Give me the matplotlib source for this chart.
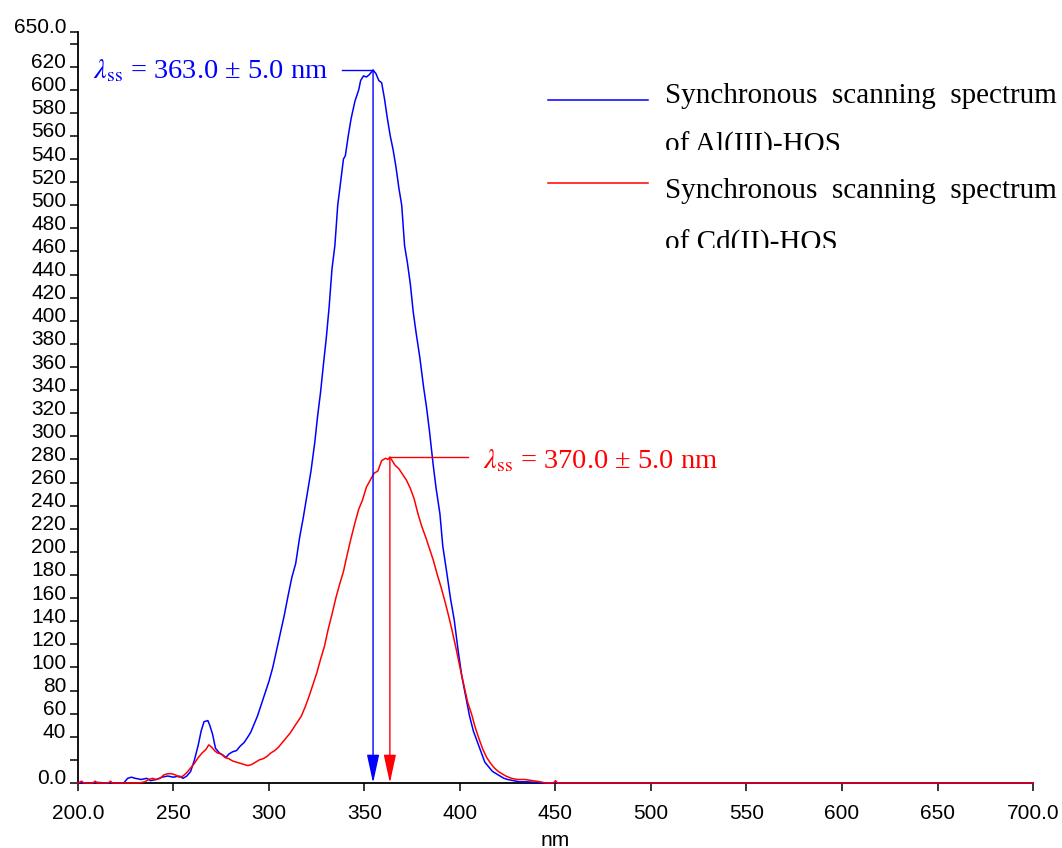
import matplotlib
matplotlib.use("Agg")
import matplotlib.pyplot as plt
import matplotlib.transforms as mtransforms
import numpy as np

plt.rcParams['font.family'] = ['Liberation Sans', 'DejaVu Sans']
plt.rcParams['mathtext.fontset'] = 'stix'

# synchronous scanning spectra (nm, intensity)
al_nm = [200, 205, 210, 215, 220, 224, 226, 228, 230, 233, 236, 238, 241, 244, 247, 250, 253, 255,
         257, 259, 261, 263, 264.5, 266, 268, 269, 270.5, 272, 274, 276, 277.5, 279, 281, 283, 285,
         287, 289, 290.5, 292, 294, 296, 298, 300, 302, 304, 306, 308, 310, 312, 314, 316, 318, 320,
         322, 324, 325.5, 327, 328.5, 330, 331.5, 333, 334.5, 336, 337.5, 339, 340, 341.5, 343, 345,
         347, 348, 349.5, 351, 352.5, 354.5, 356, 357.5, 359, 360.5, 362, 363.5, 365, 366.5, 368,
         369.5, 371, 372.5, 374, 375.5, 377, 379, 381, 382.5, 384, 386, 387.5, 389.5, 391, 393, 395,
         397, 399, 401, 403, 405, 407, 409, 411, 413, 415, 417, 419, 421, 423, 425, 428, 431, 435,
         440, 443, 700]
al_int = [0, 0, 0.5, 0, 0, 0, 4, 5, 4, 3, 4, 2, 3, 5, 6, 5, 6, 4,
          6, 10, 20, 33, 45, 53, 54, 50, 42, 30, 26, 24, 22, 25, 27, 28, 32,
          35, 40, 44, 50, 58, 68, 78, 88, 100, 115, 130, 145, 162, 178, 190, 212, 230, 250,
          270, 295, 318, 338, 362, 385, 412, 445, 465, 500, 520, 540, 543, 560, 575, 590,
          600, 608, 612, 611, 613, 617, 614, 608, 606, 592, 575, 560, 548, 533, 515,
          500, 465, 450, 432, 408, 390, 368, 342, 325, 305, 275, 255, 233, 205, 183, 160,
          141, 115, 92, 75, 58, 45, 36, 27, 18, 14, 10, 8, 6, 4, 3, 2, 1, 1,
          0.5, 0, 0]

cd_nm = [200, 202, 203, 208, 209, 210, 216, 217, 218, 225, 232, 235, 237, 239, 241, 243, 245, 247,
         249, 251, 253, 255, 257, 259, 261, 263, 265, 267, 268.5, 270, 271.5, 273, 275, 277, 279,
         281, 283, 285, 287, 289, 291, 293, 295, 297, 299, 301, 303, 305, 307, 309, 311, 313, 315,
         317, 319, 321, 323, 325, 327, 329, 331, 333, 335, 337, 339, 341, 343, 345, 347, 349, 351,
         353, 355, 357, 359, 361, 362.3, 363.3, 364.5, 366, 368, 370, 372, 374, 376, 378, 380, 382,
         384, 386, 388, 390, 392, 394, 396, 398, 400, 402, 404, 406, 408, 410, 412, 414, 416, 418,
         420, 422, 424, 427, 430, 434, 438, 442, 445, 449, 450, 451, 700]
cd_int = [0, 1.5, 0, 0, 1.5, 0, 0, 1.5, 0, 0, 0, 1, 3, 4, 3, 4, 7, 8,
          8, 7, 5, 6, 9, 13, 17, 22, 26, 29, 33, 31, 28, 26, 25, 22, 21,
          19, 18, 17, 16, 15, 16, 18, 20, 21, 23, 26, 28, 31, 35, 39, 43, 48, 53,
          58, 66, 75, 85, 95, 107, 118, 133, 146, 160, 172, 183, 198, 212, 225, 237, 245, 256,
          262, 268, 270, 279, 281, 280, 282, 279, 275, 272, 267, 262, 255, 246, 233, 222, 213,
          203, 193, 181, 170, 158, 145, 131, 116, 100, 85, 70, 60, 48, 38, 29, 22, 17, 13,
          10, 8, 6, 4, 3, 3, 2, 1, 0, 0, 2, 0, 0]

labels = ['Synchronous  scanning  spectrum', ['of Al(III)-HOS', 'of Cd(II)-HOS']]
peak_text = [r'$\lambda_{\rm ss}$ = 363.0 ± 5.0 nm', r'$\lambda_{\rm ss}$ = 370.0 ± 5.0 nm']

yticks = list(range(0, 660, 20)) + [650]
yticklabels = ['0.0', ''] + [str(v) for v in range(40, 640, 20)] + ['', '650.0']
xticks = list(range(200, 701, 50))
xticklabels = ['200.0'] + [str(v) for v in range(250, 700, 50)] + ['700.0']

fig = plt.figure(figsize=(10.62, 8.48), dpi=100)
ax = fig.add_axes([0.0734, 0.0767, 0.8993, 0.8856])

blue = '#0000ff'
red = '#ff0000'
ax.plot(al_nm, al_int, color=blue, lw=1.1, clip_on=False, zorder=3)
ax.plot(cd_nm, cd_int, color=red, lw=1.1, clip_on=False, zorder=4)

ax.set_xlim(200, 700)
ax.set_ylim(0, 650)

for sp in ['top', 'right']:
    ax.spines[sp].set_visible(False)
for sp in ['left', 'bottom']:
    ax.spines[sp].set_linewidth(1.3)

ax.set_xticks(xticks)
ax.set_xticklabels(xticklabels)
ax.set_yticks(yticks)
ax.set_yticklabels(yticklabels)
ax.tick_params(axis='x', direction='out', length=6, width=1.1, labelsize=15, pad=9)
ax.tick_params(axis='y', direction='out', length=5.5, width=1.1, labelsize=15, pad=3)
ax.set_xlabel('nm', fontsize=15, labelpad=6)

# y labels sit a little above their ticks
shift = mtransforms.ScaledTranslation(0, 0.06, fig.dpi_scale_trans)
for lab in ax.get_yticklabels():
    lab.set_transform(lab.get_transform() + shift)

# peak markers: arrow from each maximum down to the baseline
serif = ['Liberation Serif', 'DejaVu Serif']
peaks = []
for xs, ys, c in [(al_nm, al_int, blue), (cd_nm, cd_int, red)]:
    i = int(np.argmax(ys))
    px, py = xs[i], ys[i]
    peaks.append((px, py))
    ax.annotate('', xy=(px, 0), xytext=(px, py),
                arrowprops=dict(arrowstyle='-|>,head_length=1.75,head_width=0.38',
                                color=c, lw=1.0, shrinkA=0, shrinkB=0, mutation_scale=10),
                zorder=5, annotation_clip=False)

(bx, by), (rx, ry) = peaks
ax.plot([338.2, bx], [by, by], color=blue, lw=1.0, zorder=5)
ax.text(208, 610, peak_text[0], color=blue, fontsize=20.5, family=serif, va='baseline')
ax.plot([rx, 404.2], [ry, ry], color=red, lw=1.0, zorder=5)
ax.text(412, 272, peak_text[1], color=red, fontsize=20.5, family=serif, va='baseline')

# legend drawn by hand: handle line + two-line label, second line cut at its baseline
rows = [(blue, 0.9095, 0.9055, 0.8389, 0.843), (red, 0.799, 0.779, 0.7084, 0.712)]
for k, (c, yh, y1, y2, yclip) in enumerate(rows):
    ax.plot([0.492, 0.597], [yh, yh], color=c, lw=1.1, transform=ax.transAxes, clip_on=False)
    ax.text(0.6147, y1, labels[0], fontsize=21, family=serif, va='baseline',
            transform=ax.transAxes)
    t = ax.text(0.6147, y2, labels[1][k], fontsize=21, family=serif, va='baseline',
                transform=ax.transAxes)
    t.set_clip_box(mtransforms.TransformedBbox(
        mtransforms.Bbox([[0.5, yclip], [1.2, 1.2]]), ax.transAxes))
    t.set_clip_on(True)

fig.savefig('out.png', dpi=100)
